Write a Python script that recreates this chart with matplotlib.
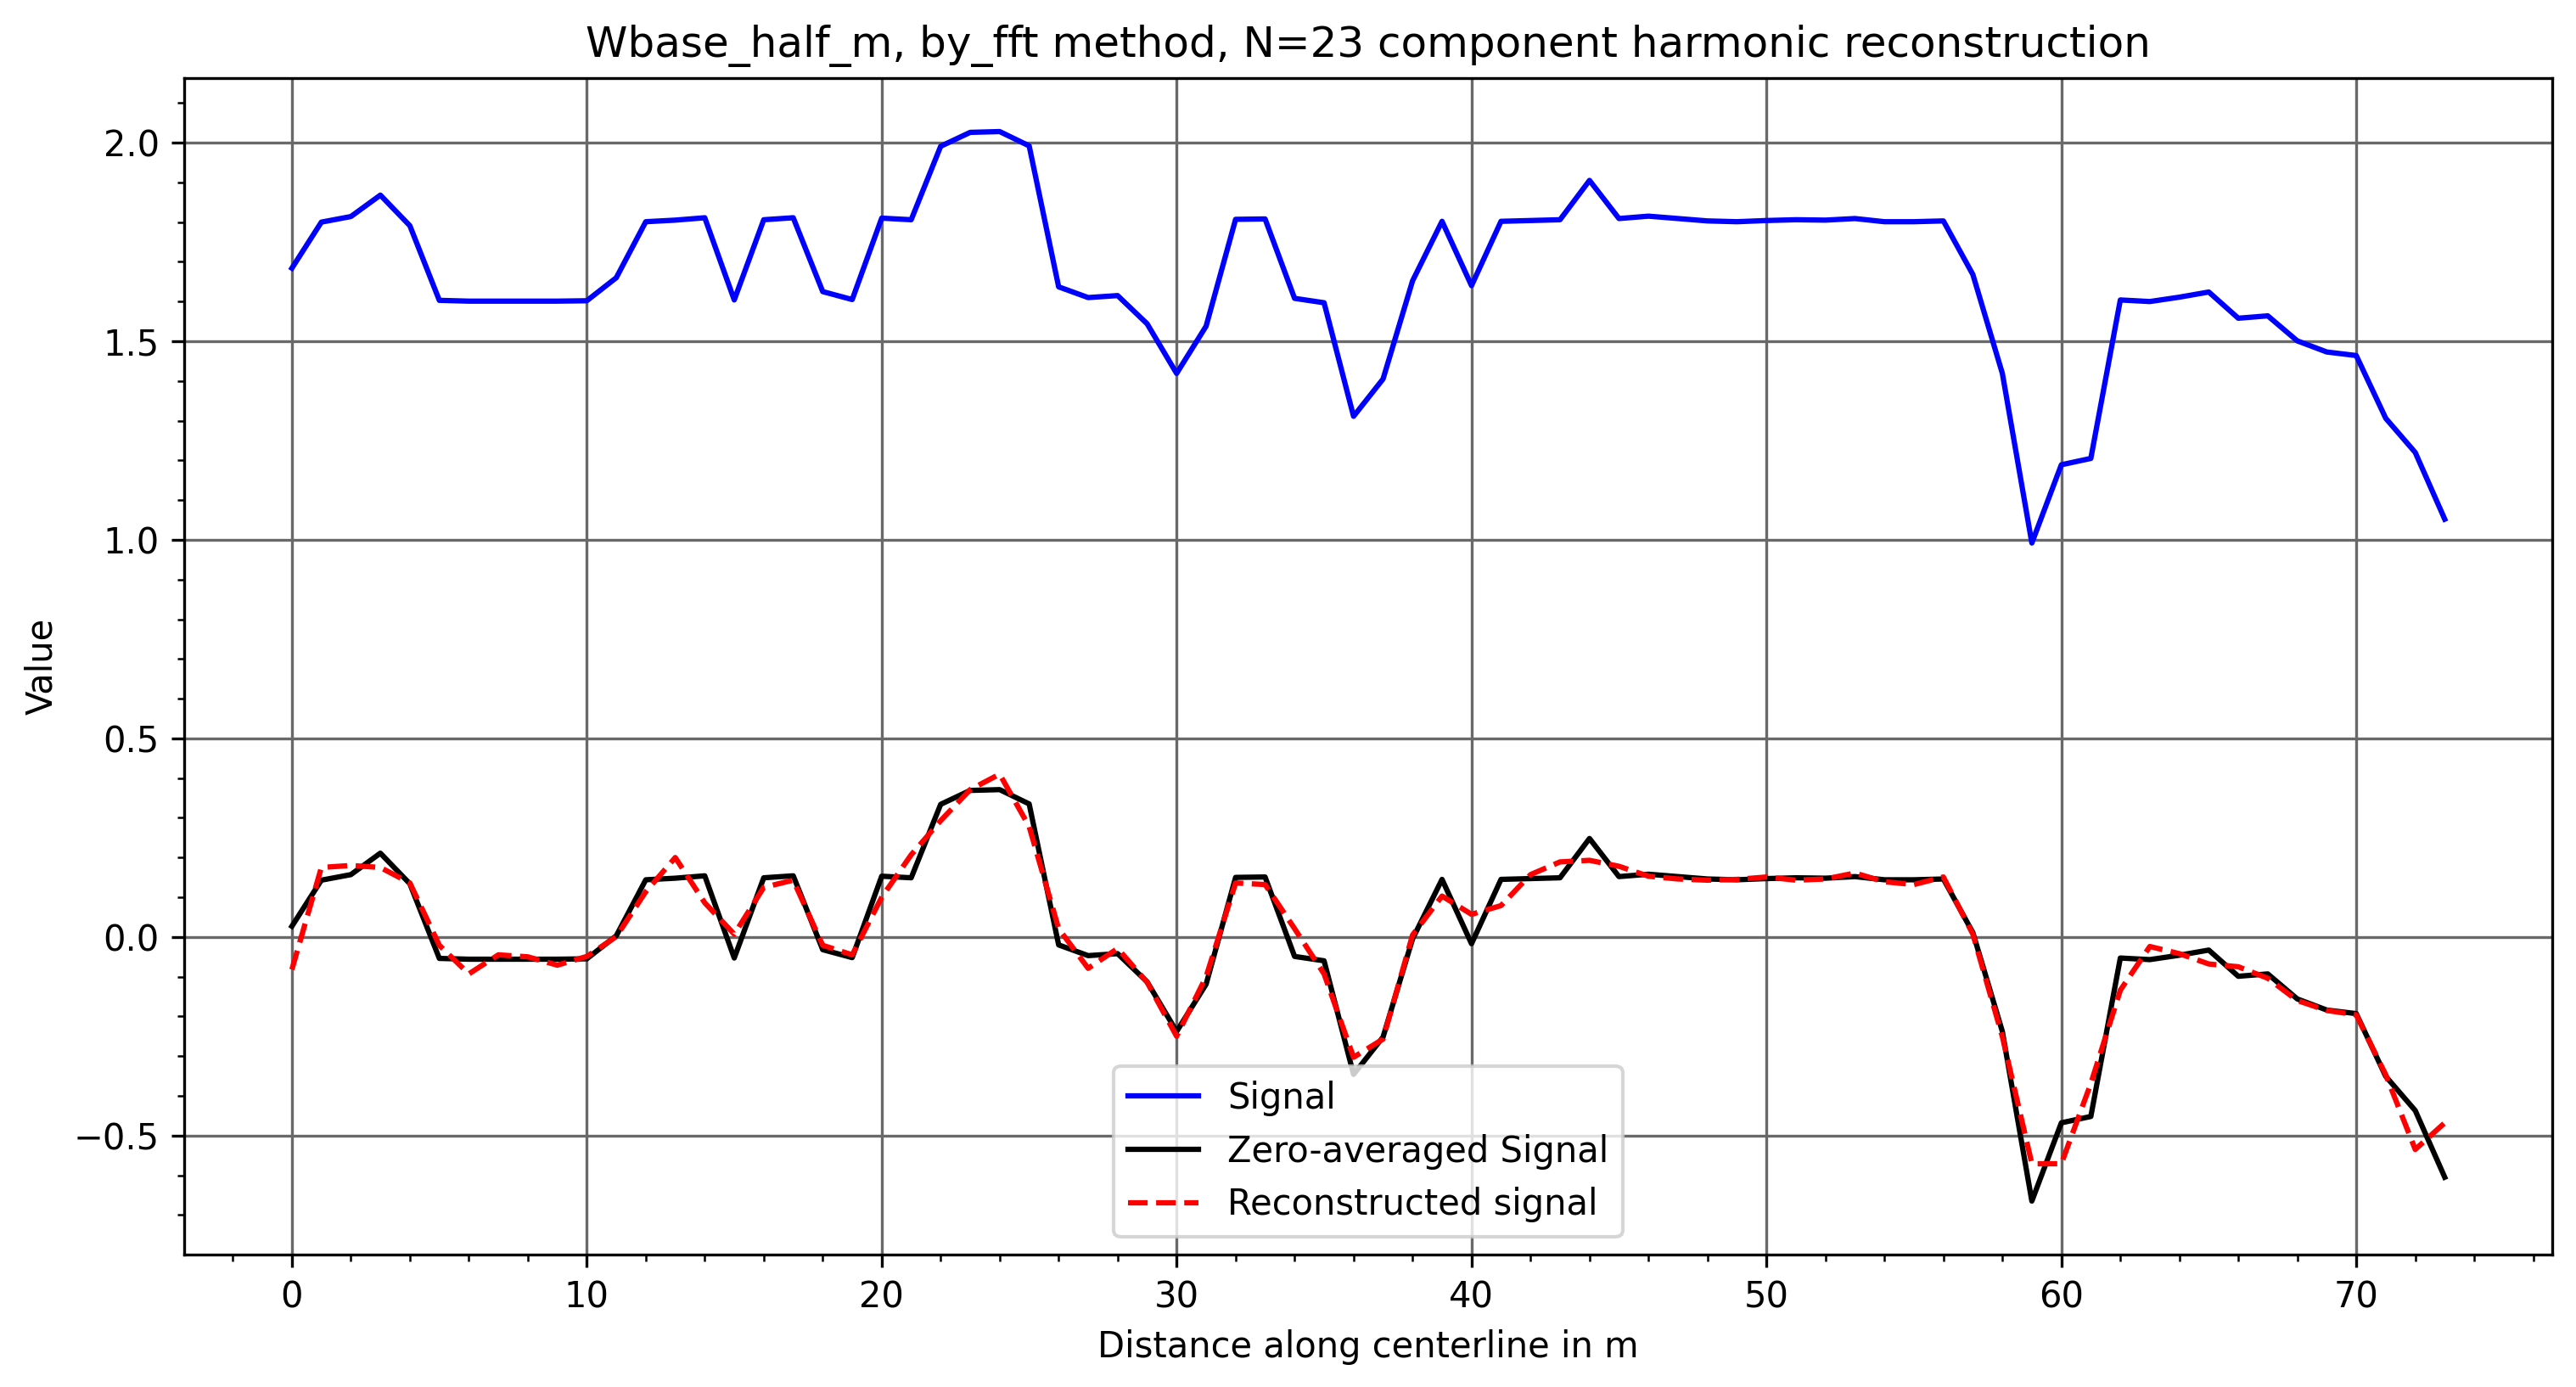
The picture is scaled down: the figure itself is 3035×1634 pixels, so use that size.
import matplotlib
matplotlib.use('Agg')
import matplotlib.pyplot as plt
import numpy as np

# distance along centerline (m)
distance = list(range(74))

# raw signal (Wbase_half_m)
signal = [1.684, 1.800, 1.814, 1.868, 1.791, 1.603, 1.601, 1.601, 1.601, 1.601,
          1.602, 1.660, 1.801, 1.805, 1.811, 1.604, 1.806, 1.811, 1.625, 1.605,
          1.810, 1.806, 1.991, 2.026, 2.028, 1.992, 1.637, 1.610, 1.615, 1.544,
          1.419, 1.538, 1.807, 1.808, 1.608, 1.597, 1.311, 1.405, 1.652, 1.802,
          1.640, 1.802, 1.804, 1.806, 1.905, 1.809, 1.815, 1.809, 1.803, 1.801,
          1.804, 1.806, 1.805, 1.809, 1.801, 1.801, 1.803, 1.668, 1.419, 0.992,
          1.189, 1.205, 1.604, 1.600, 1.611, 1.624, 1.558, 1.564, 1.501, 1.473,
          1.464, 1.306, 1.220, 1.052]

# signal with its mean removed
zero_avg = [0.027, 0.143, 0.157, 0.211, 0.134, -0.054, -0.056, -0.056, -0.056, -0.056,
            -0.055, 0.003, 0.144, 0.148, 0.154, -0.053, 0.149, 0.154, -0.032, -0.052,
            0.153, 0.149, 0.334, 0.369, 0.371, 0.335, -0.020, -0.047, -0.042, -0.113,
            -0.238, -0.119, 0.150, 0.151, -0.049, -0.060, -0.346, -0.252, -0.005, 0.145,
            -0.017, 0.145, 0.147, 0.149, 0.248, 0.152, 0.158, 0.152, 0.146, 0.144,
            0.147, 0.149, 0.148, 0.152, 0.144, 0.144, 0.146, 0.011, -0.238, -0.665,
            -0.468, -0.452, -0.053, -0.057, -0.046, -0.033, -0.099, -0.093, -0.156, -0.184,
            -0.193, -0.351, -0.437, -0.605]

# N=23 harmonic reconstruction
reconstructed = [-0.082, 0.175, 0.180, 0.175, 0.136, -0.021, -0.093, -0.045, -0.050, -0.071,
                 -0.049, 0.001, 0.114, 0.200, 0.086, 0.007, 0.125, 0.143, -0.021, -0.045,
                 0.100, 0.207, 0.293, 0.371, 0.410, 0.278, 0.021, -0.079, -0.029, -0.114,
                 -0.250, -0.100, 0.136, 0.132, 0.021, -0.093, -0.303, -0.257, 0.005, 0.103,
                 0.057, 0.079, 0.157, 0.189, 0.193, 0.178, 0.153, 0.146, 0.143, 0.145,
                 0.151, 0.143, 0.146, 0.161, 0.139, 0.132, 0.151, 0.007, -0.251, -0.571,
                 -0.571, -0.369, -0.134, -0.024, -0.042, -0.068, -0.075, -0.104, -0.160, -0.185,
                 -0.196, -0.347, -0.535, -0.468]

fig, ax = plt.subplots(figsize=(3036 / 300, 1634 / 300), dpi=300)
fig.subplots_adjust(left=0.0715, right=0.9905, top=0.9437, bottom=0.0955)

ax.plot(distance, signal, 'b-', label='Signal')
ax.plot(distance, zero_avg, 'k-', label='Zero-averaged Signal')
ax.plot(distance, reconstructed, 'r--', label='Reconstructed signal')

ax.set_title('Wbase_half_m, by_fft method, N=23 component harmonic reconstruction')
ax.set_xlabel('Distance along centerline in m')
ax.set_ylabel('Value')
ax.minorticks_on()
ax.grid(which='major', color='dimgray')
ax.legend(loc='lower center')

fig.savefig('out.png', dpi=300)
